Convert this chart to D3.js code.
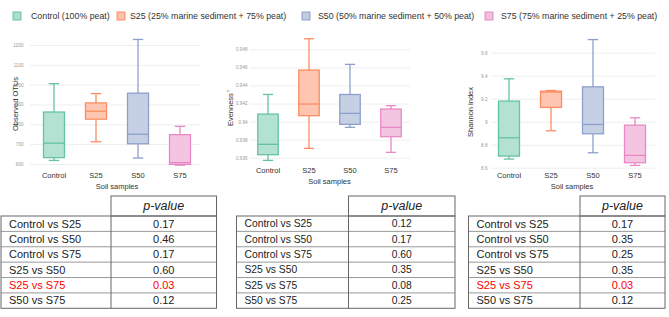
<!DOCTYPE html>
<html lang="en">
<head>
<meta charset="UTF-8">
<title>Soil samples diversity</title>
<script src="https://d3js.org/d3.v7.min.js"></script>
<style>
  body { margin: 0; background: #fff; }
  svg { font-family: "Liberation Sans", Arial, sans-serif; display: block; }
</style>
</head>
<body>
<script>
// categories and legend
var groups = ["Control", "S25", "S50", "S75"];
var legendLabels = ["Control (100% peat)", "S25 (25% marine sediment + 75% peat)",
                    "S50 (50% marine sediment + 50% peat)", "S75 (75% marine sediment + 25% peat)"];
var colors = ["#66c2a5", "#fc8d62", "#8da0cb", "#e78ac3"];

// box stats per group: [min, q1, median, q3, max]
var otus = [[618, 632, 705, 862, 1005], [712, 826, 866, 908, 955],
            [630, 702, 750, 957, 1228], [594, 598, 607, 748, 790]];
var evenness = [[0.9357, 0.93633, 0.93748, 0.94083, 0.9430], [0.93703, 0.94065, 0.94194, 0.9457, 0.94917],
                [0.93936, 0.93969, 0.94091, 0.9430, 0.94633], [0.93659, 0.93832, 0.93936, 0.94139, 0.94176]];
var shannon = [[8.675, 8.701, 8.860, 9.179, 9.373], [8.921, 9.124, 9.258, 9.265, 9.271],
               [8.730, 8.895, 8.976, 9.303, 9.714], [8.62, 8.643, 8.707, 8.970, 9.034]];

// tick values
var otuTicks = [600, 700, 800, 900, 1000, 1100, 1200];
var evenTicks = [0.936, 0.938, 0.94, 0.942, 0.944, 0.946, 0.948];
var shanTicks = [8.6, 8.8, 9, 9.2, 9.4, 9.6];

// tables
var comparisons = ["Control vs S25", "Control vs S50", "Control vs S75", "S25 vs S50", "S25 vs S75", "S50 vs S75"];
var pOtus = ["0.17", "0.46", "0.17", "0.60", "0.03", "0.12"];
var pEven = ["0.12", "0.17", "0.60", "0.35", "0.08", "0.25"];
var pShan = ["0.17", "0.35", "0.25", "0.35", "0.03", "0.12"];

var W = 669, H = 317;
var svg = d3.select("body").append("svg").attr("width", W).attr("height", H);

// legend
var legendSq = [13, 117, 302, 485], legendTx = [31, 130, 318, 501];
legendLabels.forEach(function (lab, i) {
  svg.append("rect").attr("x", legendSq[i]).attr("y", 12).attr("width", 8).attr("height", 8)
     .attr("fill", colors[i]).attr("fill-opacity", 0.55)
     .attr("stroke", colors[i]).attr("stroke-width", 1);
  svg.append("text").attr("x", legendTx[i]).attr("y", 16).attr("dy", "0.35em")
     .attr("font-size", "8.8px").attr("fill", "#333").text(lab);
});

function boxPanel(opt) {
  var g = svg.append("g");
  var x = d3.scaleBand().domain(groups).range(opt.xr);
  var y = d3.scaleLinear().domain(opt.dom).range(opt.yr);
  var yAxis = d3.axisLeft(y).tickValues(opt.ticks)
                .tickFormat(opt.fmt).tickSize(-(opt.gridEnd - opt.axisX)).tickPadding(opt.pad);
  var ax = g.append("g").attr("transform", "translate(" + opt.axisX + ",0)").call(yAxis);
  ax.select(".domain").remove();
  ax.selectAll(".tick line").attr("stroke", "#eee");
  ax.selectAll(".tick text").attr("fill", "#999").attr("font-size", "4.6px");

  var bw = x.bandwidth() / 2;
  var boxes = g.selectAll(".box").data(opt.data).enter().append("g")
     .attr("transform", function (d, i) { return "translate(" + (x(groups[i]) + x.bandwidth() / 2) + ",0)"; });
  boxes.append("line").attr("x1", 0).attr("x2", 0)
     .attr("y1", function (d) { return y(d[0]); }).attr("y2", function (d) { return y(d[4]); })
     .attr("stroke", function (d, i) { return colors[i]; }).attr("stroke-width", 1.3);
  boxes.append("rect").attr("x", -bw / 2).attr("width", bw)
     .attr("y", function (d) { return y(d[3]); })
     .attr("height", function (d) { return y(d[1]) - y(d[3]); })
     .attr("fill", function (d, i) { return colors[i]; }).attr("fill-opacity", 1)
     .attr("stroke", function (d, i) { return colors[i]; }).attr("stroke-width", 1.3);
  boxes.select("rect").attr("fill", function (d, i) { return d3.interpolateRgb(colors[i], "#fff")(0.5); });
  [0, 4].forEach(function (k) {
    boxes.append("line").attr("x1", -bw / 4).attr("x2", bw / 4)
       .attr("y1", function (d) { return y(d[k]); }).attr("y2", function (d) { return y(d[k]); })
       .attr("stroke", function (d, i) { return colors[i]; }).attr("stroke-width", 1.3);
  });
  boxes.append("line").attr("x1", -bw / 2).attr("x2", bw / 2)
     .attr("y1", function (d) { return y(d[2]); }).attr("y2", function (d) { return y(d[2]); })
     .attr("stroke", function (d, i) { return colors[i]; }).attr("stroke-width", 1.3);

  g.selectAll(".cat").data(groups).enter().append("text")
     .attr("x", function (d) { return x(d) + x.bandwidth() / 2; }).attr("y", opt.catY)
     .attr("dy", "0.35em").attr("text-anchor", "middle")
     .attr("font-size", "7.5px").attr("fill", "#333").text(function (d) { return d; });
  g.append("text").attr("x", (opt.xr[0] + opt.xr[1]) / 2).attr("y", opt.catY + 11)
     .attr("dy", "0.35em").attr("text-anchor", "middle")
     .attr("font-size", "7.5px").attr("fill", "#333").text("Soil samples");
  var t = g.append("text").attr("transform", "translate(" + opt.titleX + "," + opt.titleY + ") rotate(-90)")
     .attr("text-anchor", "middle").attr("dy", "0.35em")
     .attr("font-size", "7.5px").attr("fill", "#333").text(opt.title);
  if (opt.sub) t.append("tspan").attr("font-size", "4px").attr("dx", "1.5").attr("dy", "-0.8em").text(opt.sub);
}

boxPanel({ data: otus, dom: [600, 1200], yr: [164, 45], xr: [33, 201], ticks: otuTicks,
  fmt: function (d) { return String(d); }, axisX: 30, gridEnd: 200, pad: 6.5,
  catY: 175, title: "Observed OTUs", titleX: 15, titleY: 104 });
boxPanel({ data: evenness, dom: [0.936, 0.948], yr: [157.7, 49.3], xr: [247.5, 411.5], ticks: evenTicks,
  fmt: function (d) { return String(+d.toFixed(3)); }, axisX: 250, gridEnd: 410, pad: 2.5,
  catY: 170, title: "Evenness", sub: "ε", titleX: 230, titleY: 108 });
boxPanel({ data: shannon, dom: [8.6, 9.6], yr: [167.7, 52.7], xr: [488, 656], ticks: shanTicks,
  fmt: function (d) { return String(+d.toFixed(1)); }, axisX: 491, gridEnd: 655, pad: 3.5,
  catY: 175.5, title: "Shannon index", titleX: 470, titleY: 112 });

function pTable(opt) {
  var g = svg.append("g");
  var rowY = d3.scaleLinear().domain([0, comparisons.length]).range([216, 308.3]);
  var top = 196;
  // header cell
  g.append("rect").attr("x", opt.mid).attr("y", top).attr("width", opt.right - opt.mid).attr("height", 216 - top)
   .attr("fill", "none").attr("stroke", "#666").attr("stroke-width", 1);
  g.append("text").attr("x", (opt.mid + opt.right) / 2).attr("y", (top + 216) / 2).attr("dy", "0.35em")
   .attr("text-anchor", "middle").attr("font-style", "italic").attr("font-size", "12.5px")
   .attr("fill", "#222").text("p-value");
  // row lines
  g.selectAll(".rl").data(d3.range(1, comparisons.length)).enter().append("line")
   .attr("x1", opt.left).attr("x2", opt.right)
   .attr("y1", function (d) { return rowY(d); }).attr("y2", function (d) { return rowY(d); })
   .attr("stroke", "#999").attr("stroke-width", 1);
  g.append("rect").attr("x", opt.left).attr("y", 216).attr("width", opt.right - opt.left)
   .attr("height", rowY(comparisons.length) - 216)
   .attr("fill", "none").attr("stroke", "#666").attr("stroke-width", 1);
  g.append("line").attr("x1", opt.mid).attr("x2", opt.mid).attr("y1", 216).attr("y2", rowY(comparisons.length))
   .attr("stroke", "#666").attr("stroke-width", 1);
  var rows = g.selectAll(".row").data(comparisons).enter().append("g");
  rows.append("text").attr("x", opt.left + 8).attr("y", function (d, i) { return (rowY(i) + rowY(i + 1)) / 2; })
   .attr("dy", "0.35em").attr("font-size", opt.fs)
   .attr("fill", function (d, i) { return +opt.p[i] < 0.05 ? "#f00" : "#222"; }).text(function (d) { return d; });
  rows.append("text").attr("x", (opt.mid + opt.right) / 2).attr("y", function (d, i) { return (rowY(i) + rowY(i + 1)) / 2; })
   .attr("dy", "0.35em").attr("text-anchor", "middle").attr("font-size", opt.fs)
   .attr("fill", function (d, i) { return +opt.p[i] < 0.05 ? "#f00" : "#222"; }).text(function (d, i) { return opt.p[i]; });
}

pTable({ p: pOtus, left: 1, mid: 111, right: 216.5, fs: "11px" });
pTable({ p: pEven, left: 236.5, mid: 348.5, right: 455, fs: "10.3px" });
pTable({ p: pShan, left: 468.5, mid: 580, right: 665, fs: "11px" });
</script>
</body>
</html>
